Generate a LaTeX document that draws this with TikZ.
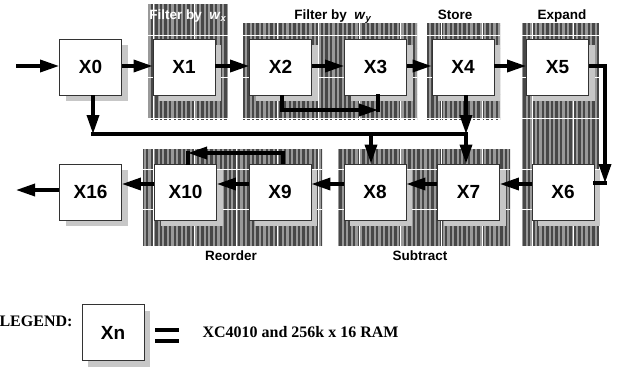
\documentclass[tikz,border=0pt]{standalone}
\usepackage{fontspec}
\setmainfont{Liberation Serif}
\setsansfont{Liberation Sans}
\usetikzlibrary{arrows.meta,shadows,patterns.meta}

\begin{document}
\begin{tikzpicture}[x=1pt,y=-1pt,
  blk/.style={draw=black!80,line width=0.8pt,fill=white,minimum width=62pt,minimum height=56pt,
    font=\fontsize{19}{21}\selectfont\sffamily\bfseries,
    drop shadow={shadow xshift=6pt,shadow yshift=-6pt,fill=black!22,opacity=1}},
  arr/.style={line width=3.4pt,-{Triangle[length=19pt,width=12pt]}},
  wire/.style={line width=3.4pt,line cap=rect},
  lab/.style={anchor=base,font=\fontsize{13.5}{15}\selectfont\sffamily\bfseries},
  stripebg/.style={fill=black!40},
  stripes/.style={pattern={Lines[angle=90,distance=4.6pt,line width=2.4pt]},pattern color=black!72},
  gridl/.style={white,line width=0.8pt}]
  \useasboundingbox (0,0) rectangle (617,368);
  \foreach \xa/\ya/\xb/\yb in {148/4/228/119,243/23/417/119,427/23/500/119,
      522/23/599/246,143/149/322/246,338/149/510/246} {
    \fill[stripebg] (\xa,\ya) rectangle (\xb,\yb);
    \fill[stripes] (\xa,\ya) rectangle (\xb,\yb);
    \begin{scope}
      \clip (\xa,\ya) rectangle (\xb,\yb);
      \foreach \gx in {153,194,236,277,318,359,400,441,482,532,573}
        \draw[gridl] (\gx,0) -- (\gx,260);
      \foreach \gy in {35,77,118,169,209}
        \draw[gridl] (0,\gy) -- (620,\gy);
    \end{scope}
  }
  \node[lab,white] (fx) at (188,19) {Filter by\ \ \textit{w}\textsubscript{\textit{x}}};
  \node[lab] (fy) at (333,19) {Filter by\ \ \textit{w}\textsubscript{\textit{y}}};
  \node[lab] (st) at (455,19) {Store};
  \node[lab] (ex) at (562,19) {Expand};
  \node[lab] (ro) at (231,260) {Reorder};
  \node[lab] (su) at (420,260) {Subtract};
  \foreach \n/\x in {0/90.5,1/184,2/280.5,3/375.5,4/463,5/557.5}
    \node[blk] (X\n) at (\x,67) {X\n};
  \foreach \n/\x in {16/90.5,10/185.5,9/280,8/375,7/468.5,6/563}
    \node[blk] (X\n) at (\x,192) {X\n};
  \coordinate (in) at (16,66);
  \coordinate (out) at (16,190);
  \coordinate (j3) at (378,110);
  \coordinate (b0) at (93,134);
  \coordinate (b8) at (371,134);
  \coordinate (b7) at (466,134);
  \coordinate (c6) at (605,183);
  \coordinate (c10) at (188,153);
  \draw[arr] (in) -- (X0.west |- in);
  \foreach \a/\b in {X0/X1,X1/X2,X2/X3,X3/X4,X4/X5}
    \draw[arr] ([yshift=1]\a.east) -- ([yshift=1]\b.west);
  \draw[arr] ([xshift=1.5]X2.south) |- (j3);
  \draw[wire] (X3.south -| j3) -- (j3);
  \draw[arr] (X0.south -| b0) -- (b0);
  \draw[wire] (b0) -- (b7);
  \draw[arr] (X4.south -| b7) -- (b7);
  \draw[arr] (b8) -- (X8.north -| b8);
  \draw[arr] (b7) -- (X7.north -| b7);
  \draw[arr] ([yshift=1]X5.east) -| (c6);
  \draw[wire] (X6.east |- c6) -- (c6);
  \foreach \a/\b in {X6/X7,X7/X8,X8/X9,X9/X10,X10/X16}
    \draw[arr] ([yshift=8]\a.west) -- ([yshift=8]\b.east);
  \draw[arr] ([xshift=3]X9.north) |- (c10);
  \draw[wire] (c10) -- (X10.north -| c10);
  \draw[arr] (X16.west |- out) -- (out);
  \node[font=\fontsize{16}{18}\selectfont\bfseries,anchor=base east] (lg) at (76,326) {LEGEND:};
  \node[blk] (Xn) at (113,332.5) {Xn};
  \fill (155,327.5) rectangle (179,331.5);
  \fill (155,338.5) rectangle (179,342.5);
  \node[font=\fontsize{16}{18}\selectfont\bfseries,anchor=base west] (ram) at (199,337) {XC4010 and 256k x 16 RAM};
\end{tikzpicture}
\end{document}
